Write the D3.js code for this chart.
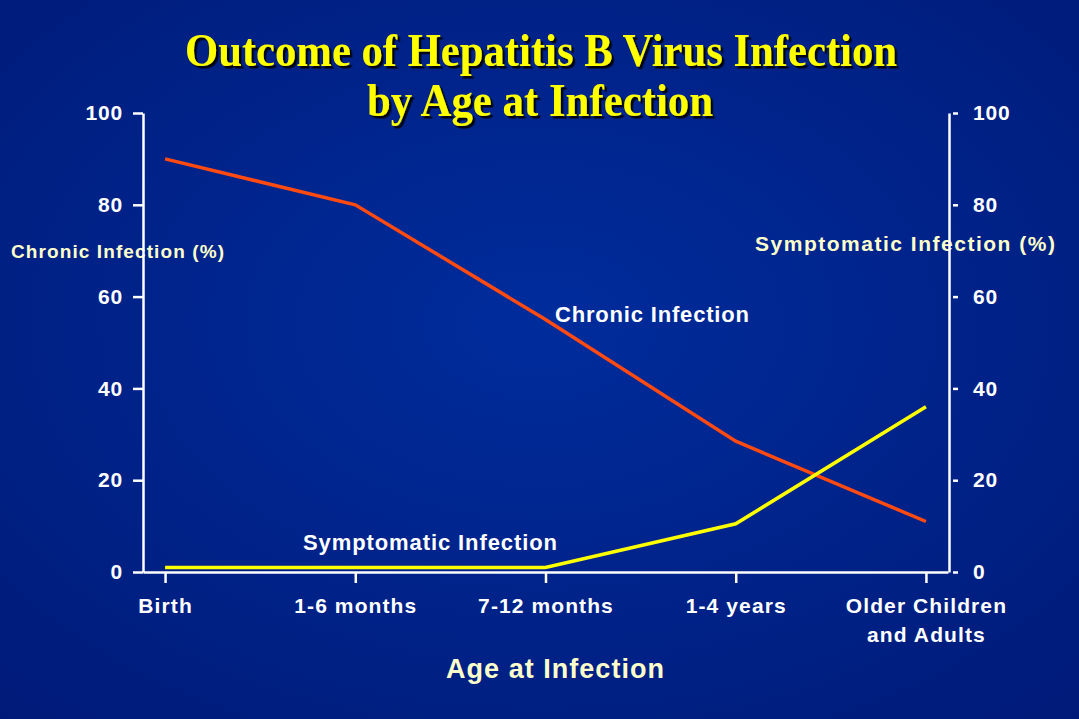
<!DOCTYPE html>
<html><head><meta charset="utf-8">
<script src="https://cdn.jsdelivr.net/npm/d3@7"></script>
<style>html,body{margin:0;padding:0;background:#00207f;}svg{display:block;}</style>
</head><body>
<svg id="chart" width="1079" height="719"></svg>
<script>
const categories = ["Birth", "1-6 months", "7-12 months", "1-4 years", "Older Children|and Adults"];
const chronicValues = [90, 80, 55, 28.5, 11];
const symptomaticValues = [1, 1, 1, 10.5, 36];
const yTicks = [0, 20, 40, 60, 80, 100];
const titleLines = ["Outcome of Hepatitis B Virus Infection", "by Age at Infection"];

const svg = d3.select("#chart");
const W = 1079, H = 719;
const defs = svg.append("defs");
const grad = defs.append("radialGradient").attr("id","bg").attr("cx","50%").attr("cy","45%").attr("r","75%");
grad.append("stop").attr("offset","0%").attr("stop-color","#002c9c");
grad.append("stop").attr("offset","100%").attr("stop-color","#001a78");
svg.append("rect").attr("width",W).attr("height",H).attr("fill","url(#bg)");
const shadow = defs.append("filter").attr("id","shadow").attr("x","-5%").attr("y","-20%").attr("width","110%").attr("height","150%");
shadow.append("feDropShadow").attr("dx",2.5).attr("dy",2.5).attr("stdDeviation",0.6)
  .attr("flood-color","#000000").attr("flood-opacity",0.9);

const x = d3.scalePoint().domain(categories).range([143, 948]).padding(0.116);
const y = d3.scaleLinear().domain([0, 100]).range([572, 113]);

const sans = "'Liberation Sans', Arial, sans-serif";

// Axis titles (drawn beneath axes)
svg.append("text").attr("x", 11).attr("y", 258).attr("font-family", sans).attr("font-weight","bold")
  .attr("font-size", 19).attr("fill", "#ffffcc").attr("textLength", 213).attr("lengthAdjust","spacing")
  .text("Chronic Infection (%)");
svg.append("text").attr("x", 755).attr("y", 251).attr("font-family", sans).attr("font-weight","bold")
  .attr("font-size", 21).attr("fill", "#ffffcc").attr("textLength", 300).attr("lengthAdjust","spacing")
  .text("Symptomatic Infection (%)");

// Left axis
const gL = svg.append("g").attr("transform","translate(143,0)")
  .call(d3.axisLeft(y).tickValues(yTicks).tickSize(10).tickSizeOuter(0).tickPadding(10));
// Right axis
const gR = svg.append("g").attr("transform","translate(949,0)")
  .call(d3.axisRight(y).tickValues(yTicks).tickSize(9).tickSizeOuter(0).tickPadding(15));
gR.selectAll(".tick line").attr("x1", 4);
// Bottom axis
const gB = svg.append("g").attr("transform","translate(0,572)")
  .call(d3.axisBottom(x).tickSize(11).tickSizeOuter(0).tickFormat(""));

[gL, gR, gB].forEach(g => {
  g.selectAll(".domain").attr("stroke","#ffffff").attr("stroke-width",2.5);
  g.selectAll(".tick line").attr("stroke","#ffffff").attr("stroke-width",2.5);
  g.selectAll(".tick text").attr("fill","#ffffff").attr("font-family",sans)
    .attr("font-weight","bold").attr("font-size",21).attr("letter-spacing","0.8px");
});

// X tick labels (multi-line)
gB.selectAll(".tick").each(function(d){
  const parts = d.split("|");
  const t = d3.select(this).append("text").attr("fill","#ffffff").attr("font-family",sans)
    .attr("font-weight","bold").attr("font-size",21).attr("letter-spacing","1.1px")
    .attr("text-anchor","middle");
  parts.forEach((p,i)=>{
    t.append("tspan").attr("x",0).attr("y", 41 + i*29).text(p);
  });
});

// Lines
const line = d3.line().x((d,i)=>x(categories[i])).y(d=>y(d));
svg.append("path").datum(chronicValues).attr("d", line).attr("fill","none")
  .attr("stroke","#ff4a12").attr("stroke-width",3.5);
svg.append("path").datum(symptomaticValues).attr("d", line).attr("fill","none")
  .attr("stroke","#ffff00").attr("stroke-width",3.5);

// Series labels
svg.append("text").attr("x", 555).attr("y", 322).attr("font-family", sans).attr("font-weight","bold")
  .attr("font-size", 22).attr("fill","#ffffff").attr("textLength",194).attr("lengthAdjust","spacing")
  .text("Chronic Infection");
svg.append("text").attr("x", 303).attr("y", 550).attr("font-family", sans).attr("font-weight","bold")
  .attr("font-size", 22).attr("fill","#ffffff").attr("textLength",254).attr("lengthAdjust","spacing")
  .text("Symptomatic Infection");

// X axis title
svg.append("text").attr("x", 446).attr("y", 678).attr("font-family", sans).attr("font-weight","bold")
  .attr("font-size", 27).attr("fill","#ffffcc").attr("textLength",218).attr("lengthAdjust","spacing")
  .text("Age at Infection");

// Title with shadow
const serif = "'Liberation Serif', 'Times New Roman', serif";
const tPos = [{x:185, y:66, w:712}, {x:367, y:116, w:346}];
titleLines.forEach((s,i)=>{
  svg.append("text").attr("x", tPos[i].x).attr("y", tPos[i].y)
    .attr("font-family", serif).attr("font-weight","bold").attr("font-size",47)
    .attr("fill", "#ffff00").attr("filter","url(#shadow)")
    .attr("textLength", tPos[i].w).attr("lengthAdjust","spacingAndGlyphs")
    .text(s);
});
</script>
</body></html>
